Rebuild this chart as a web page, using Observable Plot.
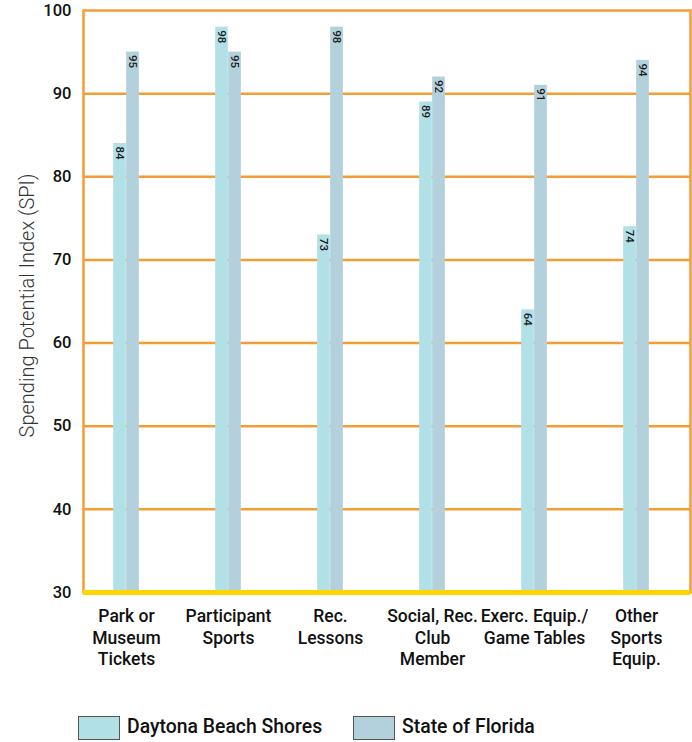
<!DOCTYPE html>
<html>
<head>
<meta charset="utf-8">
<script src="https://cdn.jsdelivr.net/npm/d3@7"></script>
<script src="https://cdn.jsdelivr.net/npm/@observablehq/plot@0.6"></script>
<style>
  html, body { margin: 0; padding: 0; background: #fff; }
  body { position: relative; width: 692px; height: 742px; overflow: hidden; font-family: Roboto, "Noto Sans", sans-serif; }
  #chart { position: absolute; left: 0; top: 0; }
  .sw { position: absolute; top: 716px; width: 40px; height: 22px; border: 1px solid #555; box-sizing: content-box; }
  .lt { position: absolute; top: 715px; font-size: 19.4px; font-weight: 500; color: #111; line-height: 24px; white-space: nowrap; }
</style>
</head>
<body>
<div id="chart"></div>
<div id="legend"></div>
<script>
const categories = ["Park or\nMuseum\nTickets", "Participant\nSports", "Rec.\nLessons", "Social, Rec.\nClub\nMember", "Exerc. Equip./\nGame Tables", "Other\nSports\nEquip."];
const daytona = [84, 98, 73, 89, 64, 74];
const florida = [95, 95, 98, 92, 91, 94];
const yTicks = [30, 40, 50, 60, 70, 80, 90, 100];
const seriesNames = ["Daytona Beach Shores", "State of Florida"];
const yLabel = "Spending Potential Index (SPI)";

const lightColor = "#b1e0e7";
const darkColor = "#b3d1dc";
const orange = "#f39d34";
const yellow = "#ffd400";

const W = 692, H = 700, mL = 83, mR = 2, mT = 10, mB = 108;
const xRange = [74, 688];
const bw = (xRange[1] - xRange[0]) / categories.length;
const barW = 13;

const dataD = categories.map((c, i) => ({cat: c, v: daytona[i]}));
const dataF = categories.map((c, i) => ({cat: c, v: florida[i]}));

const chart = Plot.plot({
  width: W, height: H,
  marginLeft: mL, marginRight: mR, marginTop: mT, marginBottom: mB,
  style: {fontFamily: "Roboto, sans-serif", background: "#fff"},
  x: {domain: categories, padding: 0, range: xRange, label: null},
  y: {domain: [30, 100], label: null},
  marks: [
    Plot.ruleY(yTicks.slice(1, -1), {stroke: orange, strokeWidth: 2.5}),
    Plot.frame({stroke: orange, strokeWidth: 2.5}),
    Plot.barY(dataD, {x: "cat", y1: 30, y2: "v", fill: lightColor, insetLeft: bw / 2 - barW, insetRight: bw / 2}),
    Plot.barY(dataF, {x: "cat", y1: 30, y2: "v", fill: darkColor, insetLeft: bw / 2, insetRight: bw / 2 - barW}),
    Plot.ruleY([30], {stroke: yellow, strokeWidth: 5}),
    Plot.text(dataD, {x: "cat", y: "v", text: d => String(d.v), rotate: 90, textAnchor: "start", lineAnchor: "middle", dx: -barW / 2, dy: 3, fontSize: 11.5, fontWeight: 500, fill: "#1a1a1a"}),
    Plot.text(dataF, {x: "cat", y: "v", text: d => String(d.v), rotate: 90, textAnchor: "start", lineAnchor: "middle", dx: barW / 2, dy: 3, fontSize: 11.5, fontWeight: 500, fill: "#1a1a1a"}),
    Plot.axisY({ticks: yTicks, tickSize: 0, tickPadding: 12, fontSize: 16.5, fontWeight: 500, fill: "#111", label: null}),
    Plot.text([yLabel], {frameAnchor: "left", rotate: -90, dx: -56, dy: 4, lineAnchor: "middle", textAnchor: "middle", fontSize: 20, fontWeight: 300, fill: "#333"}),
    Plot.axisX({tickSize: 0, tickPadding: 14, fontSize: 17.5, fontWeight: 500, fill: "#111", lineHeight: 1.24, label: null})
  ]
});
document.getElementById("chart").appendChild(chart);

const legend = document.getElementById("legend");
const items = [
  {name: seriesNames[0], color: lightColor, sx: 78, tx: 127},
  {name: seriesNames[1], color: darkColor, sx: 353, tx: 402}
];
items.forEach(it => {
  const s = document.createElement("div");
  s.className = "sw"; s.style.left = it.sx + "px"; s.style.background = it.color;
  const t = document.createElement("div");
  t.className = "lt"; t.style.left = it.tx + "px"; t.textContent = it.name;
  legend.appendChild(s); legend.appendChild(t);
});
</script>
</body>
</html>
